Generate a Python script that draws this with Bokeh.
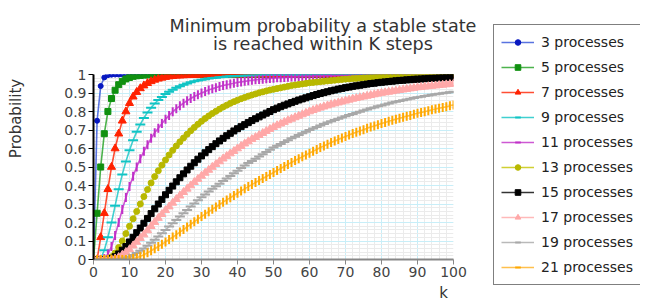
import math
from bokeh.plotting import figure
from bokeh.models import (FixedTicker, Legend, LegendItem, ColumnDataSource, Range1d)
from bokeh.layouts import row, column
from bokeh.core.properties import value
from bokeh.embed import file_html
from bokeh.resources import INLINE

k = list(range(0, 101))

p3 = [0, 0.75, 0.9375, 0.984, 0.996, 0.999, 1, 1, 1, 1,
      1, 1, 1, 1, 1, 1, 1, 1, 1, 1,
      1, 1, 1, 1, 1, 1, 1, 1, 1, 1,
      1, 1, 1, 1, 1, 1, 1, 1, 1, 1,
      1, 1, 1, 1, 1, 1, 1, 1, 1, 1,
      1, 1, 1, 1, 1, 1, 1, 1, 1, 1,
      1, 1, 1, 1, 1, 1, 1, 1, 1, 1,
      1, 1, 1, 1, 1, 1, 1, 1, 1, 1,
      1, 1, 1, 1, 1, 1, 1, 1, 1, 1,
      1, 1, 1, 1, 1, 1, 1, 1, 1, 1,
      1]
p5 = [0, 0.25, 0.5, 0.68, 0.8, 0.87, 0.915, 0.945, 0.963, 0.976,
      0.984, 0.99, 0.993, 0.995, 0.997, 0.998, 0.999, 0.999, 1, 1,
      1, 1, 1, 1, 1, 1, 1, 1, 1, 1,
      1, 1, 1, 1, 1, 1, 1, 1, 1, 1,
      1, 1, 1, 1, 1, 1, 1, 1, 1, 1,
      1, 1, 1, 1, 1, 1, 1, 1, 1, 1,
      1, 1, 1, 1, 1, 1, 1, 1, 1, 1,
      1, 1, 1, 1, 1, 1, 1, 1, 1, 1,
      1, 1, 1, 1, 1, 1, 1, 1, 1, 1,
      1, 1, 1, 1, 1, 1, 1, 1, 1, 1,
      1]
p7 = [0, 0, 0.12, 0.25, 0.38, 0.5, 0.6, 0.68, 0.75, 0.8,
      0.845, 0.88, 0.905, 0.925, 0.94, 0.953, 0.963, 0.971, 0.977, 0.982,
      0.986, 0.989, 0.991, 0.993, 0.994, 0.995, 0.996, 0.997, 0.998, 0.998,
      0.999, 0.999, 0.999, 1, 1, 1, 1, 1, 1, 1,
      1, 1, 1, 1, 1, 1, 1, 1, 1, 1,
      1, 1, 1, 1, 1, 1, 1, 1, 1, 1,
      1, 1, 1, 1, 1, 1, 1, 1, 1, 1,
      1, 1, 1, 1, 1, 1, 1, 1, 1, 1,
      1, 1, 1, 1, 1, 1, 1, 1, 1, 1,
      1, 1, 1, 1, 1, 1, 1, 1, 1, 1,
      1]
p9 = [0, 0, 0.005, 0.05, 0.12, 0.2, 0.29, 0.38, 0.46, 0.53,
      0.59, 0.645, 0.69, 0.73, 0.765, 0.795, 0.82, 0.843, 0.862, 0.879,
      0.894, 0.907, 0.918, 0.928, 0.937, 0.945, 0.952, 0.958, 0.963, 0.968,
      0.972, 0.975, 0.978, 0.981, 0.983, 0.985, 0.987, 0.989, 0.99, 0.991,
      0.992, 0.993, 0.994, 0.995, 0.995, 0.996, 0.996, 0.997, 0.997, 0.998,
      0.998, 0.998, 0.998, 0.999, 0.999, 0.999, 0.999, 0.999, 0.999, 0.999,
      1, 1, 1, 1, 1, 1, 1, 1, 1, 1,
      1, 1, 1, 1, 1, 1, 1, 1, 1, 1,
      1, 1, 1, 1, 1, 1, 1, 1, 1, 1,
      1, 1, 1, 1, 1, 1, 1, 1, 1, 1,
      1]
p11 = [0, 0, 0, 0.005, 0.03, 0.07, 0.13, 0.2, 0.27, 0.335,
       0.395, 0.45, 0.5, 0.545, 0.585, 0.62, 0.655, 0.685, 0.71, 0.735,
       0.758, 0.779, 0.798, 0.815, 0.831, 0.845, 0.858, 0.87, 0.881, 0.891,
       0.9, 0.908, 0.916, 0.923, 0.929, 0.935, 0.94, 0.945, 0.949, 0.953,
       0.957, 0.96, 0.963, 0.966, 0.969, 0.971, 0.973, 0.975, 0.977, 0.979,
       0.98, 0.982, 0.983, 0.984, 0.985, 0.986, 0.987, 0.988, 0.989, 0.99,
       0.99, 0.991, 0.992, 0.992, 0.993, 0.993, 0.994, 0.994, 0.995, 0.995,
       0.995, 0.996, 0.996, 0.996, 0.997, 0.997, 0.997, 0.997, 0.998, 0.998,
       0.998, 0.998, 0.998, 0.998, 0.999, 0.999, 0.999, 0.999, 0.999, 0.999,
       0.999, 0.999, 0.999, 0.999, 0.999, 1, 1, 1, 1, 1,
       1]
p13 = [0, 0, 0, 0, 0.005, 0.015, 0.035, 0.065, 0.1, 0.14,
       0.18, 0.22, 0.26, 0.3, 0.34, 0.378, 0.414, 0.448, 0.48, 0.51,
       0.538, 0.565, 0.59, 0.614, 0.636, 0.657, 0.677, 0.696, 0.714, 0.731,
       0.747, 0.762, 0.776, 0.789, 0.801, 0.813, 0.824, 0.834, 0.844, 0.853,
       0.861, 0.869, 0.876, 0.883, 0.889, 0.895, 0.901, 0.906, 0.911, 0.916,
       0.92, 0.924, 0.928, 0.932, 0.936, 0.94, 0.943, 0.946, 0.949, 0.952,
       0.955, 0.957, 0.959, 0.961, 0.963, 0.965, 0.967, 0.969, 0.971, 0.973,
       0.975, 0.976, 0.978, 0.979, 0.98, 0.982, 0.983, 0.984, 0.985, 0.986,
       0.987, 0.988, 0.989, 0.99, 0.99, 0.991, 0.992, 0.992, 0.993, 0.993,
       0.994, 0.994, 0.995, 0.995, 0.996, 0.996, 0.996, 0.997, 0.997, 0.997,
       0.998]
p15 = [0, 0, 0, 0, 0, 0.005, 0.015, 0.03, 0.05, 0.07,
       0.095, 0.12, 0.145, 0.17, 0.196, 0.222, 0.248, 0.274, 0.3, 0.325,
       0.35, 0.374, 0.397, 0.42, 0.442, 0.463, 0.484, 0.504, 0.523, 0.542,
       0.56, 0.577, 0.594, 0.61, 0.626, 0.641, 0.655, 0.669, 0.682, 0.695,
       0.707, 0.718, 0.729, 0.74, 0.751, 0.761, 0.771, 0.781, 0.791, 0.8,
       0.81, 0.818, 0.826, 0.834, 0.841, 0.848, 0.855, 0.862, 0.868, 0.874,
       0.88, 0.886, 0.892, 0.897, 0.902, 0.907, 0.912, 0.916, 0.921, 0.925,
       0.929, 0.932, 0.936, 0.939, 0.942, 0.945, 0.948, 0.951, 0.953, 0.956,
       0.958, 0.96, 0.962, 0.964, 0.966, 0.968, 0.969, 0.971, 0.972, 0.974,
       0.975, 0.976, 0.977, 0.979, 0.98, 0.981, 0.982, 0.983, 0.984, 0.984,
       0.985]
p17 = [0, 0, 0, 0, 0, 0, 0.005, 0.013, 0.025, 0.04,
       0.055, 0.075, 0.095, 0.115, 0.135, 0.157, 0.18, 0.202, 0.224, 0.245,
       0.266, 0.286, 0.306, 0.326, 0.345, 0.364, 0.382, 0.4, 0.418, 0.435,
       0.452, 0.468, 0.484, 0.5, 0.515, 0.53, 0.545, 0.559, 0.573, 0.586,
       0.6, 0.613, 0.626, 0.638, 0.65, 0.661, 0.672, 0.683, 0.694, 0.705,
       0.715, 0.725, 0.734, 0.743, 0.752, 0.76, 0.768, 0.776, 0.784, 0.792,
       0.8, 0.807, 0.814, 0.82, 0.826, 0.832, 0.838, 0.843, 0.848, 0.853,
       0.858, 0.863, 0.868, 0.872, 0.876, 0.88, 0.884, 0.888, 0.892, 0.896,
       0.9, 0.903, 0.906, 0.909, 0.912, 0.915, 0.918, 0.921, 0.924, 0.927,
       0.93, 0.932, 0.934, 0.936, 0.938, 0.94, 0.942, 0.944, 0.946, 0.948,
       0.95]
p19 = [0, 0, 0, 0, 0, 0, 0, 0, 0.005, 0.01,
       0.015, 0.024, 0.035, 0.047, 0.06, 0.075, 0.09, 0.107, 0.124, 0.142,
       0.16, 0.178, 0.196, 0.214, 0.232, 0.25, 0.268, 0.286, 0.303, 0.32,
       0.337, 0.352, 0.367, 0.382, 0.396, 0.41, 0.424, 0.438, 0.452, 0.466,
       0.48, 0.494, 0.508, 0.521, 0.533, 0.545, 0.557, 0.569, 0.581, 0.593,
       0.605, 0.615, 0.625, 0.635, 0.645, 0.655, 0.664, 0.673, 0.682, 0.691,
       0.7, 0.708, 0.716, 0.724, 0.732, 0.74, 0.747, 0.754, 0.761, 0.768,
       0.775, 0.781, 0.787, 0.793, 0.799, 0.805, 0.811, 0.817, 0.822, 0.828,
       0.833, 0.838, 0.843, 0.848, 0.853, 0.857, 0.861, 0.865, 0.869, 0.873,
       0.877, 0.88, 0.884, 0.887, 0.89, 0.893, 0.896, 0.899, 0.902, 0.904,
       0.907]
p21 = [0, 0, 0, 0, 0, 0, 0, 0, 0, 0,
       0.002, 0.005, 0.01, 0.017, 0.026, 0.036, 0.047, 0.058, 0.07, 0.082,
       0.095, 0.108, 0.121, 0.134, 0.148, 0.162, 0.176, 0.19, 0.204, 0.218,
       0.232, 0.245, 0.258, 0.271, 0.284, 0.297, 0.31, 0.322, 0.334, 0.346,
       0.358, 0.37, 0.382, 0.394, 0.405, 0.416, 0.427, 0.438, 0.449, 0.459,
       0.47, 0.481, 0.492, 0.503, 0.514, 0.524, 0.535, 0.545, 0.555, 0.565,
       0.575, 0.585, 0.595, 0.605, 0.614, 0.623, 0.632, 0.641, 0.649, 0.657,
       0.665, 0.673, 0.681, 0.688, 0.695, 0.702, 0.709, 0.716, 0.722, 0.729,
       0.735, 0.741, 0.747, 0.753, 0.758, 0.764, 0.769, 0.774, 0.779, 0.785,
       0.79, 0.795, 0.799, 0.804, 0.809, 0.813, 0.818, 0.822, 0.826, 0.831,
       0.835]

labels = ["3 processes", "5 processes", "7 processes", "9 processes", "11 processes",
          "13 processes", "15 processes", "17 processes", "19 processes", "21 processes"]
series = [p3, p5, p7, p9, p11, p13, p15, p17, p19, p21]

x_ticks = [0, 10, 20, 30, 40, 50, 60, 70, 80, 90, 100]
y_ticks = [0, 0.1, 0.2, 0.3, 0.4, 0.5, 0.6, 0.7, 0.8, 0.9, 1]
y_tick_labels = ["0", "0.1", "0.2", "0.3", "0.4", "0.5", "0.6", "0.7", "0.8", "0.9", "1"]

title_lines = ["Minimum probability a stable state", "is reached within K steps"]
x_label = "k"
y_label = "Probability"

# ---------------- styles ----------------
line_colors = ["#3050d8", "#20a020", "#ff2200", "#10c4c4", "#c030c8", "#c4c400", "#000000", "#ffa8a8", "#a8a8a8", "#ffb020"]
mark_colors = ["#0818c0", "#109010", "#ff2200", "#10c4c4", "#c030c8", "#b8b800", "#000000", "#ffa8a8", "#a8a8a8", "#ffa800"]
markers = ["circle", "square", "triangle", "dash", "dash", "circle", "square", "triangle", "dash", "dash"]
sizes = [5, 6, 8, 10, 9, 6, 6, 8, 10, 9]
angles = [0, 0, 0, 0, math.pi / 2, 0, 0, 0, 0, math.pi / 2]

FONT = "DejaVu Sans"
TEXT_COLOR = "#333333"
TOTAL_H = 302


def blank_fig(w, h, xr, yr):
    f = figure(width=w, height=h, output_backend="svg", toolbar_location=None, title=None,
               x_axis_type=None, y_axis_type=None, x_range=xr, y_range=yr,
               min_border=0, min_border_left=0, min_border_right=0,
               min_border_top=0, min_border_bottom=0)
    f.outline_line_color = None
    f.background_fill_color = "white"
    f.border_fill_color = "white"
    return f


def add_glyphs(fig, i, src, lw=1.6):
    lr = fig.line("k", "v", source=src, line_color=line_colors[i], line_width=lw, line_alpha=0.8)
    if markers[i] == "dash":
        sr = fig.scatter("k", "v", source=src, marker="dash", size=sizes[i], angle=angles[i],
                         line_color=mark_colors[i], line_width=2)
    else:
        sr = fig.scatter("k", "v", source=src, marker=markers[i], size=sizes[i],
                         fill_color=mark_colors[i], line_color=mark_colors[i])
    return lr, sr


# ---------------- main plot ----------------
p = figure(width=460, height=224, output_backend="svg", toolbar_location=None, title=None,
           x_range=(0, 100), y_range=(0, 1),
           min_border_left=63, min_border_right=37, min_border_top=14, min_border_bottom=25)
p.outline_line_color = None
p.background_fill_color = "white"
p.border_fill_color = "white"

xt = FixedTicker(ticks=x_ticks, minor_ticks=[i * 2 for i in range(51)])
yt = FixedTicker(ticks=y_ticks, minor_ticks=[i * 0.02 for i in range(51)])
p.xaxis.ticker = xt
p.yaxis.ticker = yt
p.xgrid.ticker = xt
p.ygrid.ticker = yt
p.yaxis.major_label_overrides = {t: s for t, s in zip(y_ticks, y_tick_labels)}

for g in (p.xgrid, p.ygrid):
    g.grid_line_color = "#c8eef8"
    g.grid_line_width = 1
    g.minor_grid_line_color = "#ebebeb"
    g.minor_grid_line_width = 1

for ax in (p.xaxis, p.yaxis):
    ax.major_label_text_font = FONT
    ax.major_label_text_font_size = "14px"
    ax.major_label_text_color = "#444444"
    ax.minor_tick_line_color = None
    ax.major_tick_in = 0
    ax.major_tick_out = 5
    ax.axis_line_width = 2

p.yaxis.axis_line_color = "#000000"
p.yaxis.major_tick_line_color = "#000000"
p.yaxis.major_label_standoff = 2
p.xaxis.axis_line_color = "#888888"
p.xaxis.major_tick_line_color = "#888888"
p.xaxis.major_label_standoff = 2

for i, ys in enumerate(series):
    add_glyphs(p, i, ColumnDataSource(dict(k=k, v=ys)))

# ---------------- title strip (page y 0..60) ----------------
tf = blank_fig(460, 60, Range1d(30, 490), Range1d(60, 0))
tf.text(x=[322.5, 322.5], y=[25, 43], text=title_lines, text_font=value(FONT),
        text_font_size="17.6px", text_color=TEXT_COLOR, text_align="center", text_baseline="middle")

# ---------------- x label strip (page y 284..302) ----------------
bf = blank_fig(460, 18, Range1d(30, 490), Range1d(302, 284))
bf.text(x=[443], y=[292], text=[x_label], text_font=value(FONT), text_font_size="15px",
        text_color=TEXT_COLOR, text_align="center", text_baseline="middle")

# ---------------- y label strip ----------------
yf = blank_fig(30, TOTAL_H, Range1d(0, 30), Range1d(TOTAL_H, 0))
yf.text(x=[15], y=[118], text=[y_label], angle=math.pi / 2, text_font=value(FONT),
        text_font_size="15px", text_color=TEXT_COLOR, text_align="center", text_baseline="middle")

# ---------------- legend panel ----------------
lf = blank_fig(150, TOTAL_H, Range1d(0, 150), Range1d(0, TOTAL_H))
items = []
for i, lab in enumerate(labels):
    # one off-screen point so the legend has something to draw its swatch from
    lr, sr = add_glyphs(lf, i, ColumnDataSource(dict(k=[-1000], v=[-1000])), lw=1.4)
    items.append(LegendItem(label=lab, renderers=[lr, sr]))
legend = Legend(items=items, location=(3, TOTAL_H - 285), orientation="vertical",
                glyph_width=33, glyph_height=14, label_height=20, spacing=5, padding=7,
                margin=0, label_standoff=7, label_text_font=FONT, label_text_font_size="14px",
                label_text_color="#222222", border_line_color="#000000", border_line_width=1,
                background_fill_color="white", background_fill_alpha=1.0)
lf.add_layout(legend)

layout = row(yf, column(row(tf, spacing=0), p, row(bf, spacing=0), spacing=0), lf, spacing=0)

open("out.html", "w").write(file_html(layout, INLINE))
